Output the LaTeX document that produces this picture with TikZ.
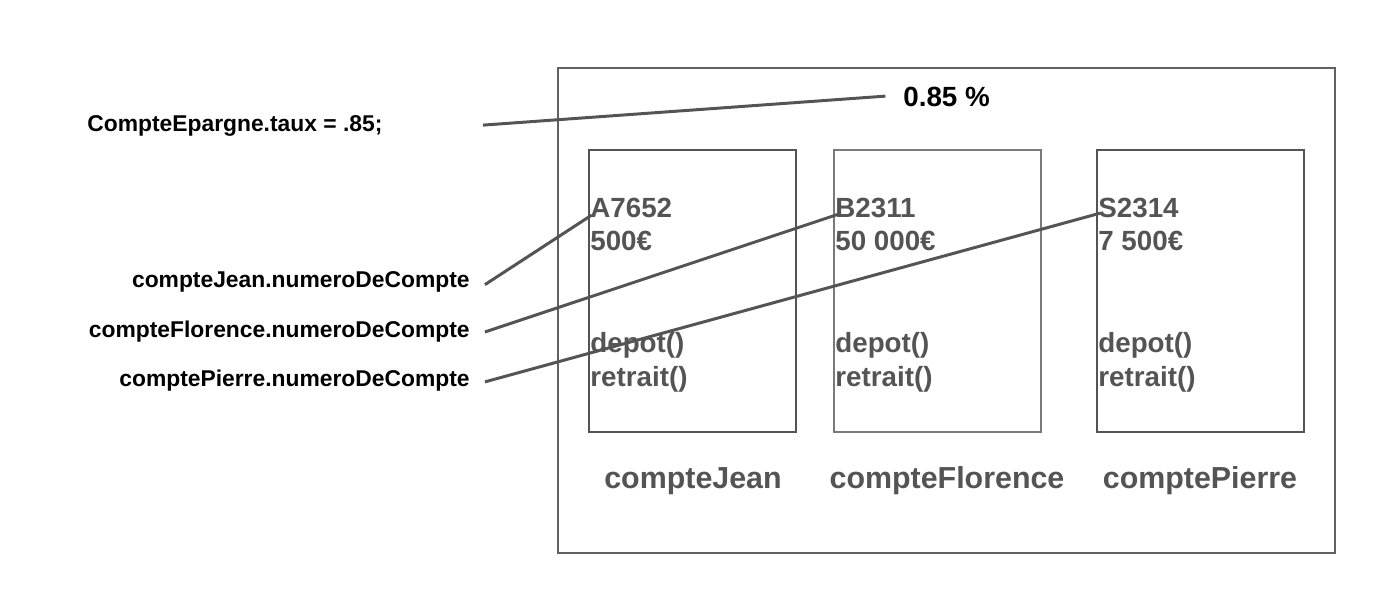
\documentclass[tikz,border=0pt]{standalone}
\usepackage{fontspec}
\setmainfont{Liberation Sans}
\usepackage{xcolor}
\usetikzlibrary{positioning}
\colorlet{dgray}{black!67}
\colorlet{lgray}{black!52}
\tikzstyle{lbl}=[font=\bfseries\fontsize{13}{15}\selectfont,inner sep=0pt]
\tikzstyle{fld}=[font=\bfseries\fontsize{15.8}{18}\selectfont,text=dgray,inner sep=0pt,anchor=west]
\tikzstyle{obj}=[font=\bfseries\fontsize{17.3}{20}\selectfont,text=dgray,inner sep=0pt]
\tikzstyle{ptr}=[line width=1.7pt,draw=dgray]
\tikzstyle{objbox}=[line width=1.1pt]

\begin{document}
\begin{tikzpicture}[x=0.02cm,y=-0.02cm]
	\useasboundingbox (0,0) rectangle (1379,609);
	\draw[objbox,draw=black!62] (558,68) rectangle (1335,553);
	\node[fld,text=black] (rate) at (903,97) {0.85 \%};
	\foreach \x/\n/\id/\sum/\c/\lx in {589/Jean/A7652/500€/dgray/693,
	    834/Florence/B2311/50 000€/lgray/947, 1097/Pierre/S2314/7 500€/dgray/1200}{
	  \draw[objbox,draw=\c] (\x,150) rectangle +(207,282);
	  \node[fld] (id\n)  at (\x+1,208) {\id};
	  \node[fld] (sum\n) at (\x+1,241) {\sum};
	  \node[fld] (dep\n) at (\x+1,345) {depot()};
	  \node[fld] (ret\n) at (\x+1,379) {retrait()};
	  \node[obj] (nom\n) at (\lx,481) {compte\n};
	}
	\node[lbl,anchor=west] (taux) at (87,126) {CompteEpargne.taux = .85;};
	\node[lbl,anchor=east] (numJean)     at (470,282) {compteJean.numeroDeCompte};
	\node[lbl,anchor=east] (numFlorence) at (470,332) {compteFlorence.numeroDeCompte};
	\node[lbl,anchor=east] (numPierre)   at (470,381) {comptePierre.numeroDeCompte};
	\draw[ptr] ([xshift=57pt,yshift=0.5pt]taux.east) -- ([xshift=-10pt,yshift=0.5pt]rate.west);
	\draw[ptr] ([xshift=8.5pt,yshift=-1.5pt]numJean.east) -- ([xshift=1pt,yshift=-4pt]idJean.west);
	\draw[ptr] ([xshift=8.5pt,yshift=0pt]numFlorence.east) -- ([xshift=2pt,yshift=-3.5pt]idFlorence.west);
	\draw[ptr] ([xshift=8.5pt,yshift=-0.5pt]numPierre.east) -- ([xshift=1pt,yshift=-3pt]idPierre.west);
\end{tikzpicture}
\end{document}
